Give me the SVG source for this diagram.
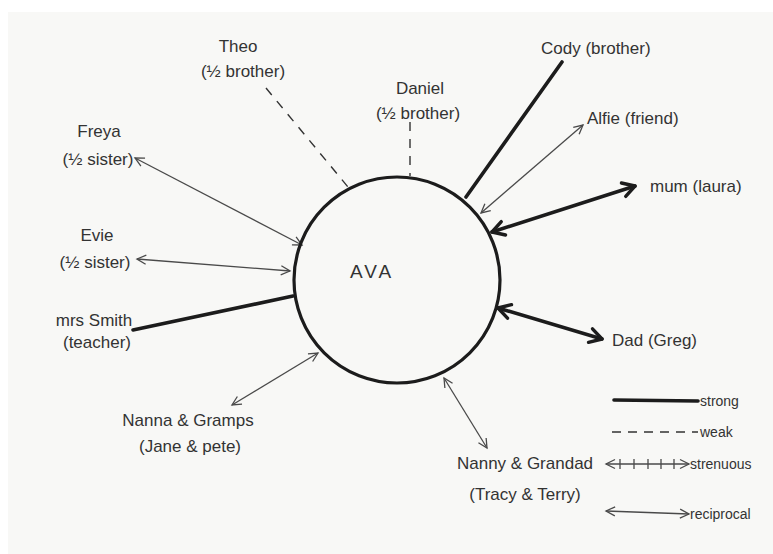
<svg xmlns="http://www.w3.org/2000/svg" width="773" height="554" viewBox="0 0 773 554">
<style>
.t{font-family:"Liberation Sans",Arial,sans-serif;font-size:17px;fill:#333333;}
.m{text-anchor:middle;}
.thin{stroke:#4a4a4a;stroke-width:1.3;fill:none;}
.thick{stroke:#1c1c1c;stroke-width:3.6;fill:none;stroke-linecap:round;}
.dash{stroke:#333;stroke-width:1.4;stroke-dasharray:9 8;fill:none;}
</style>
<defs>
<marker id="ah" viewBox="-11 -6 13 12" refX="0" refY="0" markerWidth="13" markerHeight="12" markerUnits="userSpaceOnUse" orient="auto-start-reverse">
<path d="M-9,-4.5 L0,0 L-9,4.5" fill="none" stroke="#4a4a4a" stroke-width="1.3"/>
</marker>
<marker id="ahb" viewBox="-15 -10 18 20" refX="0" refY="0" markerWidth="18" markerHeight="20" markerUnits="userSpaceOnUse" orient="auto-start-reverse">
<path d="M-12,-7 L0,0 L-12,7" fill="none" stroke="#1c1c1c" stroke-width="3.4" stroke-linejoin="round" stroke-linecap="round"/>
</marker>
</defs>
<rect width="773" height="554" fill="#ffffff"/>
<rect x="8" y="12" width="765" height="542" fill="#f8f8f6"/>

<g id="connectors">
<line class="dash" x1="266" y1="88" x2="348" y2="187"/>
<line class="dash" x1="410" y1="122" x2="410" y2="176"/>
<line class="thick" x1="562" y1="62" x2="466" y2="197"/>
<line class="thin" x1="583" y1="125" x2="481" y2="213" marker-start="url(#ah)" marker-end="url(#ah)"/>
<line class="thick" x1="635" y1="186" x2="492" y2="232" marker-start="url(#ahb)" marker-end="url(#ahb)"/>
<line class="thick" x1="498" y1="308" x2="602" y2="339" marker-start="url(#ahb)" marker-end="url(#ahb)"/>
<line class="thin" x1="444" y1="378" x2="487" y2="448" marker-start="url(#ah)" marker-end="url(#ah)"/>
<line class="thin" x1="318" y1="353" x2="232" y2="405" marker-start="url(#ah)" marker-end="url(#ah)"/>
<line class="thick" x1="133" y1="330" x2="293" y2="296"/>
<line class="thin" x1="137" y1="259" x2="290" y2="271" marker-start="url(#ah)" marker-end="url(#ah)"/>
<line class="thin" x1="135" y1="158" x2="302" y2="245" marker-start="url(#ah)" marker-end="url(#ah)"/>
</g>

<g id="ava">
<circle cx="397" cy="280" r="103" fill="none" stroke="#1c1c1c" stroke-width="3.2"/>
<text class="t" x="350" y="278" style="font-size:19px;letter-spacing:3px">AVA</text>
</g>

<g id="theo"><text class="t m" x="238" y="52">Theo</text><text class="t m" x="243" y="77">(½ brother)</text></g>
<g id="daniel"><text class="t m" x="420" y="94">Daniel</text><text class="t m" x="418" y="119">(½ brother)</text></g>
<g id="cody"><text class="t" x="541" y="54">Cody (brother)</text></g>
<g id="alfie"><text class="t" x="587" y="124">Alfie (friend)</text></g>
<g id="mum"><text class="t" x="650" y="192">mum (laura)</text></g>
<g id="dad"><text class="t" x="612" y="346">Dad (Greg)</text></g>
<g id="freya"><text class="t m" x="99" y="137">Freya</text><text class="t m" x="98" y="165">(½ sister)</text></g>
<g id="evie"><text class="t m" x="97" y="241">Evie</text><text class="t m" x="95" y="268">(½ sister)</text></g>
<g id="mrs-smith"><text class="t m" x="94" y="326">mrs Smith</text><text class="t m" x="97" y="348">(teacher)</text></g>
<g id="nanna-gramps"><text class="t m" x="188" y="426">Nanna &amp; Gramps</text><text class="t m" x="190" y="452">(Jane &amp; pete)</text></g>
<g id="nanny-grandad"><text class="t m" x="525" y="469">Nanny &amp; Grandad</text><text class="t m" x="525" y="500">(Tracy &amp; Terry)</text></g>

<g id="legend">
<line class="thick" x1="614" y1="400" x2="698" y2="401"/>
<text class="t" x="700" y="406" style="font-size:14px">strong</text>
<line class="dash" x1="612" y1="432" x2="698" y2="432" style="stroke-dasharray:9 7"/>
<text class="t" x="700" y="437" style="font-size:14px">weak</text>
<line class="thin" x1="606" y1="464" x2="689" y2="464" marker-start="url(#ah)" marker-end="url(#ah)"/>
<path class="thin" d="M620,459 V469 M634,459 V469 M648,459 V469 M661,459 V469 M674,459 V469"/>
<text class="t" x="690" y="469" style="font-size:14px">strenuous</text>
<line class="thin" x1="606" y1="511" x2="689" y2="514" marker-start="url(#ah)" marker-end="url(#ah)"/>
<text class="t" x="690" y="519" style="font-size:14px">reciprocal</text>
</g>
</svg>
